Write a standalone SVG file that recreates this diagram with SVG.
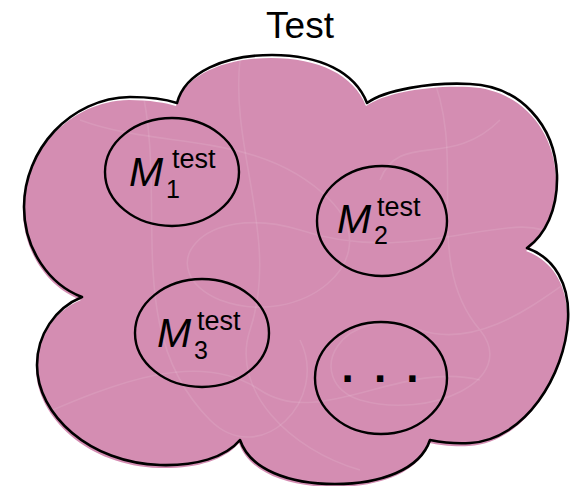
<svg xmlns="http://www.w3.org/2000/svg" width="570" height="486" viewBox="0 0 570 486">
  <defs>
    <style>
      .cloud-fill { fill: #D48DB2; stroke: none; }
      .cloud-edge { fill: none; stroke: #000; stroke-width: 2.6; stroke-linejoin: round; }
      .scribble { fill: none; stroke: #fff; stroke-opacity: 0.1; stroke-width: 1.6; }
      .node { fill: none; stroke: #000; stroke-width: 2.4; }
      .title { font-family: "Liberation Sans", Arial, sans-serif; font-size: 37px; fill: #000; }
      .m { font-family: "Liberation Sans", Arial, sans-serif; font-style: italic; font-size: 41px; fill: #000; }
      .sup { font-family: "Liberation Sans", Arial, sans-serif; font-size: 27px; fill: #000; }
      .sub { font-family: "Liberation Sans", Arial, sans-serif; font-size: 25px; fill: #000; }
      .dots { font-family: "Liberation Sans", Arial, sans-serif; font-size: 44px; font-weight: bold; fill: #000; }
    </style>
    <path id="cloud" d="M177,103 C185,72 225,55 272,55 C320,55 355,72 367,103
      C385,90 430,82 470,84 C520,86 555,125 557,175 C558,210 545,235 527,248
      C555,258 570,285 568,320 C565,375 525,440 470,443 C455,444 440,442 430,440
      C420,470 380,484 335,484 C290,484 250,470 240,440
      C225,458 195,466 160,465 C90,463 37,415 37,365 C37,335 55,308 82,297
      C50,285 24,250 24,207 C24,150 70,98 130,97 C150,97 168,100 177,103 Z"/>
    <clipPath id="cloudClip">
      <use href="#cloud" transform="translate(-1,3)"/>
    </clipPath>
  </defs>

  <!-- title -->
  <text class="title" x="300" y="38" text-anchor="middle">Test</text>

  <!-- cloud body -->
  <g id="cloud-shape">
    <use href="#cloud" class="cloud-fill" transform="translate(-1,3)"/>
    <g clip-path="url(#cloudClip)">
      <path class="scribble" d="M80,120 C160,150 260,130 330,200 C390,260 300,330 220,300 C150,270 200,200 300,230 C420,270 520,200 560,240"/>
      <path class="scribble" d="M140,80 C170,200 120,330 210,420 C260,470 330,400 300,340"/>
      <path class="scribble" d="M430,70 C470,160 420,260 480,330 C520,380 430,420 360,400 C300,380 340,300 420,330 C480,350 540,300 570,280"/>
      <path class="scribble" d="M30,420 C120,380 200,350 260,390 C320,430 400,360 480,380"/>
      <path class="scribble" d="M240,60 C230,150 280,240 250,330 C230,390 290,450 360,470"/>
      <path class="scribble" d="M500,120 C450,170 400,130 380,180"/>
    </g>
    <use href="#cloud" class="cloud-edge"/>
  </g>

  <!-- model nodes -->
  <g id="node-m1">
    <ellipse class="node" cx="172" cy="172" rx="67" ry="54"/>
    <text class="m" x="129" y="186">M</text>
    <text class="sup" x="172" y="168">test</text>
    <text class="sub" x="166" y="198">1</text>
  </g>

  <g id="node-m2">
    <ellipse class="node" cx="382" cy="221" rx="65" ry="55"/>
    <text class="m" x="337" y="233">M</text>
    <text class="sup" x="377" y="216">test</text>
    <text class="sub" x="374" y="244">2</text>
  </g>

  <g id="node-m3">
    <ellipse class="node" cx="202" cy="333" rx="67" ry="54"/>
    <text class="m" x="157" y="347">M</text>
    <text class="sup" x="197" y="330">test</text>
    <text class="sub" x="194" y="359">3</text>
  </g>

  <g id="node-more">
    <ellipse class="node" cx="381" cy="378" rx="66" ry="56"/>
    <text class="dots" x="382" y="382" text-anchor="middle" letter-spacing="4">. . .</text>
  </g>
</svg>
